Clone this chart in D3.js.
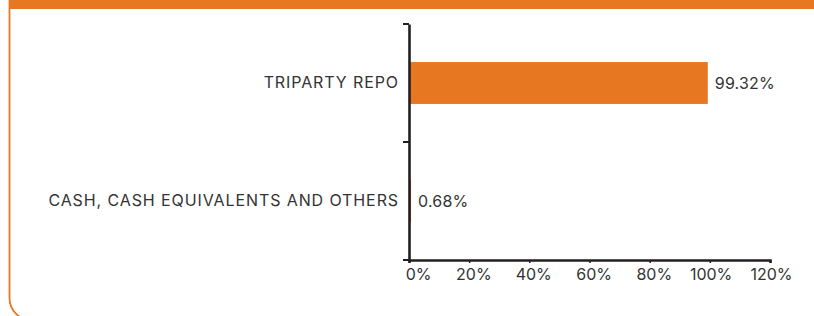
<!DOCTYPE html>
<html>
<head>
<meta charset="utf-8">
<script src="https://cdn.jsdelivr.net/npm/d3@7"></script>
<style>
  body { margin: 0; background: #fff; }
  svg { display: block; }
  text { font-family: Inter, "Noto Sans", sans-serif; fill: #333; }
</style>
</head>
<body>
<svg id="chart" width="814" height="316"></svg>
<script>
// values
let categories = ["TRIPARTY REPO", "CASH, CASH EQUIVALENTS AND OTHERS"]
let shares = [99.32, 0.68]
let tick_values = [0, 20, 40, 60, 80, 100, 120]

let width = 814,
    height = 316,
    orange = "#e87722",
    ink = "#231f20",
    margins = {top: 24, bottom: 56, left: 409, right: 44}

let svg = d3.select("#chart")

// card frame: rounded border and orange header strip
svg.append("rect")
  .attr("x", 9.5).attr("y", -30)
  .attr("width", 840).attr("height", 350)
  .attr("rx", 22)
  .attr("fill", "none")
  .attr("stroke", orange)
  .attr("stroke-width", 1.8)
svg.append("rect")
  .attr("x", 10).attr("y", 0)
  .attr("width", width).attr("height", 9)
  .attr("fill", orange)

let data = categories.map((c, i) => ({name: c, value: shares[i]}))

let x = d3.scaleLinear()
  .domain([0, 120])
  .range([margins.left, width - margins.right])

let y = d3.scaleBand()
  .domain(categories)
  .range([margins.top, height - margins.bottom])
  .paddingInner(0.645)
  .paddingOuter(0.3225)

// bars
svg.append("g")
  .selectAll("rect")
  .data(data).enter()
  .append("rect")
  .attr("x", x(0))
  .attr("y", d => y(d.name))
  .attr("width", d => x(d.value) - x(0))
  .attr("height", y.bandwidth())
  .attr("fill", orange)

// value labels
svg.append("g")
  .selectAll("text")
  .data(data).enter()
  .append("text")
  .attr("x", d => x(d.value) + 7)
  .attr("y", d => y(d.name) + y.bandwidth() / 2)
  .attr("dy", "0.35em")
  .attr("font-size", 16)
  .attr("letter-spacing", 0.2)
  .text(d => d.value.toFixed(2) + "%")

// x axis
let x_axis = d3.axisBottom(x)
  .tickValues(tick_values)
  .tickFormat(d => d + "%")
  .tickSize(3)
  .tickPadding(6)
svg.append("g")
  .attr("transform", `translate(0,${height - margins.bottom})`)
  .call(x_axis)
  .call(g => g.select(".domain").attr("stroke", ink).attr("stroke-width", 2.6))
  .call(g => g.selectAll(".tick line").attr("stroke", ink).attr("stroke-width", 1.5))
  .call(g => g.selectAll(".tick text")
    .attr("font-family", "Inter, 'Noto Sans', sans-serif")
    .attr("font-size", 16).attr("fill", "#333")
    .attr("text-anchor", "end").attr("dx", 22))

// y axis: category labels with ticks between bands
let y_axis = d3.axisLeft(y).tickSize(0).tickPadding(10)
svg.append("g")
  .attr("transform", `translate(${margins.left},0)`)
  .call(y_axis)
  .call(g => g.select(".domain").attr("stroke", ink).attr("stroke-width", 2.6))
  .call(g => g.selectAll(".tick text")
    .attr("font-family", "Inter, 'Noto Sans', sans-serif")
    .attr("font-size", 16).attr("fill", "#333")
    .attr("letter-spacing", 0.9))

let band_edges = [margins.top, (margins.top + height - margins.bottom) / 2, height - margins.bottom]
svg.append("g")
  .selectAll("line")
  .data(band_edges).enter()
  .append("line")
  .attr("x1", margins.left - 6)
  .attr("x2", margins.left)
  .attr("y1", d => d)
  .attr("y2", d => d)
  .attr("stroke", ink)
  .attr("stroke-width", 2)
</script>
</body>
</html>
